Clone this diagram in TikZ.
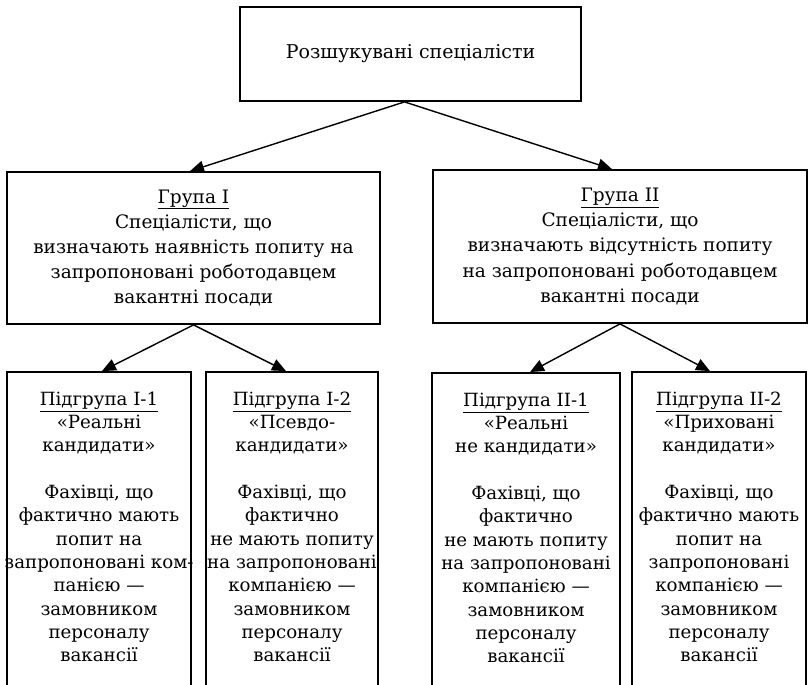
\documentclass[tikz,border=0pt]{standalone}
\usepackage{fontspec}
\setmainfont{DejaVu Serif}
\usetikzlibrary{arrows.meta,calc}

\begin{document}
\begin{tikzpicture}[x=1pt,y=-1pt,
  box/.style={draw, line width=1.8pt, inner sep=0pt, align=center},
  link/.style={line width=1.4pt, -{Triangle[length=14pt,width=12pt]}},
  toptext/.style={font=\fontsize{19}{25}\selectfont},
  grouptext/.style={font=\fontsize{18.5}{25.2}\selectfont},
  subtext/.style={align=center, inner sep=0pt, anchor=north,
    font=\fontsize{18.2}{23.3}\selectfont}]
\useasboundingbox (0,0) rectangle (809,685);
\clip (0,0) rectangle (809,685);

% top level
\node[box, toptext, minimum width=341pt, minimum height=94pt] (top) at (410.5,54)
  {Розшукувані спеціалісти};

% groups
\node[box, grouptext, minimum width=373pt, minimum height=152pt] (g1) at (193.5,248)
  {\underline{Група I}\\Спеціалісти, що\\визначають наявність попиту на\\запропоновані роботодавцем\\вакантні посади};
\node[box, grouptext, minimum width=374pt, minimum height=153pt] (g2) at (620,246.5)
  {\underline{Група II}\\Спеціалісти, що\\визначають відсутність попиту\\на запропоновані роботодавцем\\вакантні посади};

% subgroups (run past the lower edge)
\node[box, minimum width=184pt, minimum height=348pt] (s11) at (99,546) {};
\node[box, minimum width=172pt, minimum height=348pt] (s12) at (292,546) {};
\node[box, minimum width=188pt, minimum height=348pt] (s21) at (526,547) {};
\node[box, minimum width=174pt, minimum height=348pt] (s22) at (719,546) {};

\node[subtext] (t11) at ([yshift=-20.5pt]s11.north)
  {\underline{Підгрупа I-1}\\«Реальні\\кандидати»\\[23.3pt]Фахівці, що\\фактично мають\\попит на\\запропоновані ком-\\панією —\\замовником\\персоналу\\вакансії};
\node[subtext] (t12) at ([yshift=-20.5pt]s12.north)
  {\underline{Підгрупа I-2}\\«Псевдо-\\кандидати»\\[23.3pt]Фахівці, що\\фактично\\не мають попиту\\на запропоновані\\компанією —\\замовником\\персоналу\\вакансії};
\node[subtext] (t21) at ([yshift=-20.5pt]s21.north)
  {\underline{Підгрупа II-1}\\«Реальні\\не кандидати»\\[23.3pt]Фахівці, що\\фактично\\не мають попиту\\на запропоновані\\компанією —\\замовником\\персоналу\\вакансії};
\node[subtext] (t22) at ([yshift=-20.5pt]s22.north)
  {\underline{Підгрупа II-2}\\«Приховані\\кандидати»\\[23.3pt]Фахівці, що\\фактично мають\\попит на\\запропоновані\\компанією —\\замовником\\персоналу\\вакансії};

% connectors
\draw[link] ([xshift=-6pt]top.south) -- ([xshift=-3.5pt]g1.north);
\draw[link] ([xshift=-6pt]top.south) -- ([xshift=-8pt]g2.north);
\draw[link] (g1.south) -- ([xshift=3pt]s11.north);
\draw[link] (g1.south) -- ([xshift=-6pt]s12.north);
\draw[link] (g2.south) -- ([xshift=4pt]s21.north);
\draw[link] (g2.south) -- ([xshift=-9pt]s22.north);
\end{tikzpicture}
\end{document}
